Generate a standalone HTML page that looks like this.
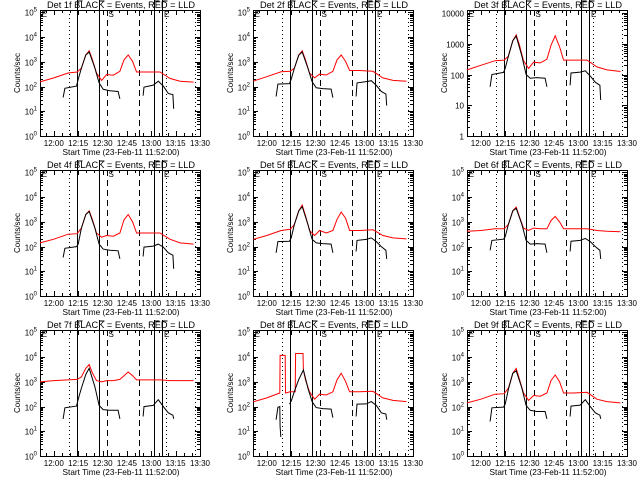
<!DOCTYPE html>
<html><head><meta charset="utf-8"><style>
html,body{margin:0;padding:0;background:#fff;}
svg{display:block;font-family:"Liberation Sans",sans-serif;}
</style></head><body>
<svg id="fig" width="640" height="480" viewBox="0 0 640 480"></svg>
<script>
// shared time grids (minutes after 12:00)
const redTime = [-8.5,0,8.8,14.4,17,19.7,21.8,23.8,26.3,29.4,32.5,36.6,40.7,43.2,45.8,48.5,51,57,65.4,71.5,77.7,86];
const blackTime = [5.7,6.8,14,15,17,19.7,21.8,25.3,27.9,30.4,34.5,39.6,40.7,null,55,55.5,61.2,64.3,67.4,70.5,73.3,73.8];
const det8RedTime = [-8.5,0,8.0,8.2,11.3,11.5,14.4,17.5,17.7,22.3,22.5,23.8,26.3,29.4,32.5,36.6,40.7,43.2,45.8,48.5,51,57,65.4,71.5,77.7,86];
const det8BlackTime = [5.7,6.8,8.0,8.2,8.6,null,14,15,17,19.7,22.5,25.3,27.9,30.4,34.5,39.6,40.7,null,55,55.5,61.2,64.3,67.4,70.5,73.3,73.8];
// log10(counts/sec)
const det1Red = [2.19,2.35,2.55,2.59,2.75,3.28,3.45,3.08,2.55,2.25,2.49,2.46,2.62,3.08,3.28,3.02,2.59,2.59,2.59,2.33,2.22,2.18];
const det1Black = [1.56,1.93,2.02,2.29,2.75,3.28,3.4,2.75,2.15,1.89,1.83,1.8,1.5,null,1.63,1.98,2.06,2.22,2.02,1.72,1.67,1.1];
const det2Red = [2.22,2.4,2.6,2.62,2.75,3.28,3.45,3.08,2.55,2.35,2.5,2.47,2.62,3.08,3.28,3.02,2.65,2.65,2.62,2.35,2.25,2.22];
const det2Black = [1.6,2.1,2.12,2.3,2.75,3.28,3.4,2.75,2.2,1.95,1.92,1.9,1.55,null,1.6,2.15,2.2,2.24,2.05,1.8,1.7,1.23];
const det3Red = [2.15,2.3,2.45,2.47,2.6,3.1,3.29,2.95,2.45,2.2,2.4,2.38,2.5,2.95,3.26,2.9,2.47,2.47,2.47,2.25,2.15,2.1];
const det3Black = [1.6,2.0,2.07,2.2,2.6,3.1,3.25,2.6,2.0,1.88,1.9,1.88,1.6,null,1.65,2.05,2.08,2.12,1.95,1.75,1.65,1.17];
const det4Red = [2.15,2.3,2.5,2.52,2.75,3.3,3.45,3.08,2.55,2.38,2.45,2.42,2.55,3.08,3.3,3.0,2.55,2.55,2.55,2.3,2.15,2.1];
const det4Black = [1.56,1.93,2.0,2.1,2.75,3.3,3.42,2.75,2.1,1.9,1.85,1.83,1.5,null,1.6,1.98,2.02,2.1,1.98,1.75,1.65,1.1];
const det5Red = [2.29,2.45,2.65,2.7,2.9,3.45,3.68,3.25,2.65,2.45,2.65,2.55,2.65,3.1,3.4,3.15,2.65,2.65,2.68,2.45,2.35,2.31];
const det5Black = [1.75,2.2,2.22,2.35,2.9,3.45,3.62,2.9,2.3,2.15,2.12,2.1,1.75,null,1.8,2.25,2.29,2.35,2.2,2.0,1.85,1.5];
const det6Red = [2.62,2.65,2.72,2.72,2.9,3.45,3.6,3.2,2.75,2.65,2.75,2.72,2.72,3.05,3.22,3.0,2.72,2.72,2.72,2.65,2.62,2.6];
const det6Black = [1.85,2.25,2.3,2.4,2.9,3.45,3.55,2.9,2.25,2.1,2.12,2.1,1.75,null,1.8,2.22,2.25,2.33,2.2,2.0,1.85,1.5];
const det7Red = [3.0,3.05,3.08,3.1,3.2,3.55,3.7,3.35,3.05,3.0,3.05,3.05,3.1,3.25,3.4,3.25,3.08,3.08,3.08,3.05,3.05,3.05];
const det7Black = [1.5,1.95,2.02,2.3,2.75,3.3,3.55,2.8,2.05,1.88,1.85,1.85,1.5,null,1.6,2.0,2.05,2.28,2.0,1.75,1.65,1.5];
const det8Red = [2.19,2.35,2.55,4.07,4.07,2.55,2.6,2.6,4.15,4.15,3.48,3.08,2.6,2.3,2.5,2.47,2.6,3.08,3.35,3.02,2.6,2.6,2.62,2.35,2.25,2.2];
const det8Black = [1.47,1.97,2.0,1.2,0.77,null,2.1,2.22,2.62,3.1,3.48,2.75,2.2,1.96,1.92,1.9,1.55,null,1.6,2.1,2.11,2.2,2.05,1.75,1.7,1.47];
const det9Red = [2.15,2.3,2.5,2.52,2.75,3.35,3.54,3.1,2.55,2.25,2.45,2.42,2.55,3.05,3.28,3.0,2.55,2.55,2.58,2.3,2.2,2.15];
const det9Black = [1.4,1.95,1.98,2.1,2.7,3.35,3.45,2.75,2.05,1.85,1.8,1.8,1.5,null,1.6,2.02,2.06,2.28,2.0,1.75,1.65,1.5];
const xTickMinutes = [0,15,30,45,60,75,90];
const xTickLabels = ["12:00","12:15","12:30","12:45","13:00","13:15","13:30"];
const markerDotted = [9.2,69.1,86.7];
const markerSolid = [14.3,27.9,61.8,66.8];
const markerDashed = [32.7,52.6];

const NS = "http://www.w3.org/2000/svg";
const svg = document.getElementById('fig');
function mk(tag, attrs, parent){ const e=document.createElementNS(NS,tag); for(const k in attrs) e.setAttribute(k,attrs[k]); (parent||svg).appendChild(e); return e; }

const panels = [
  {det:1,red:det1Red,black:det1Black},{det:2,red:det2Red,black:det2Black},{det:3,red:det3Red,black:det3Black,lin:true},
  {det:4,red:det4Red,black:det4Black},{det:5,red:det5Red,black:det5Black},{det:6,red:det6Red,black:det6Black},
  {det:7,red:det7Red,black:det7Black},{det:8,red:det8Red,black:det8Black,rt:det8RedTime,bt:det8BlackTime},{det:9,red:det9Red,black:det9Black}
];
const lefts=[40,253,467], tops=[10,170,330], W=160, H=126, X0=-8.5, X1=90;

panels.forEach((p,i)=>{
  const L=lefts[i%3], T=tops[Math.floor(i/3)];
  const ymax = p.lin ? 4.1 : 5.1;
  const xs = m => L + (m - X0)/(X1-X0)*W;
  const ys = v => T + H - v/ymax*H;
  const g = mk('g',{});
  
  
  // frame
  const fr = mk('rect',{x:L+0.5,y:T+0.5,width:W,height:H,fill:'none',stroke:'#000','stroke-width':1},g);
   
  // y ticks
  const nd = p.lin?4:5;
  for(let d=0; d<=nd; d++){
    const y=Math.round(ys(d))+0.5;
    mk('line',{x1:L,x2:L+5,y1:y,y2:y,stroke:'#000'},g);
    mk('line',{x1:L+W-5,x2:L+W,y1:y,y2:y,stroke:'#000'},g);
    const t = mk('text',{x:L-3,y:y+3,'font-size':8,'text-anchor':'end'},g);
     
    if(p.lin){ t.textContent = String(Math.pow(10,d)); }
    else { t.textContent='10'; const s=mk('tspan',{'font-size':6,dy:-4},t); s.textContent=String(d); }
    if(d<nd) for(let k=2;k<10;k++){
      const yy=Math.round(ys(d+Math.log10(k)))+0.5;
      if(yy<T) continue;
      mk('line',{x1:L,x2:L+3,y1:yy,y2:yy,stroke:'#000'},g);
      mk('line',{x1:L+W-3,x2:L+W,y1:yy,y2:yy,stroke:'#000'},g);
    }
  }
  // x ticks
  for(let m=-5;m<=90;m+=5){
    const x=Math.round(xs(m))+0.5, major = m%15===0;
    const len = major?5:3;
    mk('line',{x1:x,x2:x,y1:T+H,y2:T+H-len,stroke:'#000'},g);
    mk('line',{x1:x,x2:x,y1:T,y2:T+len,stroke:'#000'},g);
  }
  xTickMinutes.forEach((m,j)=>{
    const t=mk('text',{x:xs(m),y:T+H+10,'font-size':8,'text-anchor':'middle'},g);
     
    t.textContent=xTickLabels[j];
  });
  // markers
  markerDotted.forEach(m=>{ const x=Math.round(xs(m))+0.5; const l=mk('line',{x1:x,x2:x,y1:T,y2:T+H,stroke:'#000','stroke-dasharray':'1 3'},g);   });
  markerDashed.forEach(m=>{ const x=Math.round(xs(m))+0.5; const l=mk('line',{x1:x,x2:x,y1:T,y2:T+H,stroke:'#000','stroke-dasharray':'6 4'},g);   });
  markerSolid.forEach(m=>{ const x=Math.round(xs(m))+0.5; const l=mk('line',{x1:x,x2:x,y1:T-10,y2:T+H,stroke:'#000'},g);  
    mk('polyline',{points:`${x},${T-9} ${x+5},${T-9}`,fill:'none',stroke:'#000'},g); });
  // top annotation glyphs
  const ann = [[X0+1,'E'],[markerDashed[0]+1,'S'],[markerSolid[3]+1,'E']];
  ann.forEach(a=>{ const t=mk('text',{x:xs(a[0]),y:T+7,'font-size':8},g);   t.textContent=a[1]; });
  // series
  function path(times, vals){
    let d='', pen=false;
    times.forEach((tm,k)=>{ const v=vals[k];
      if(tm===null||v===null){pen=false;return;}
      d += (pen?'L':'M')+xs(tm).toFixed(1)+','+ys(v).toFixed(1)+' '; pen=true; });
    return d;
  }
  const rp=mk('path',{d:path(p.rt||redTime,p.red),fill:'none',stroke:'#ff0000','stroke-width':1},g);
   
  const bp=mk('path',{d:path(p.bt||blackTime,p.black),fill:'none',stroke:'#000','stroke-width':1},g);
   
  // title
  const tt=mk('text',{x:L+W/2+1,y:T-2,'font-size':9,'text-anchor':'middle',textLength:148,lengthAdjust:'spacingAndGlyphs'},g);
   
  tt.textContent='Det '+p.det+'f BLACK = Events, RED = LLD';
  const xl=mk('text',{x:L+W/2+1,y:T+H+19,'font-size':8.5,'text-anchor':'middle',textLength:117,lengthAdjust:'spacingAndGlyphs'},g);
   
  xl.textContent='Start Time (23-Feb-11 11:52:00)';
  const yl=mk('text',{x:0,y:0,'font-size':8,'text-anchor':'middle',transform:`translate(${L-20},${T+H/2}) rotate(-90)`},g);
   
  yl.textContent='Counts/sec';
});
</script>
</body></html>
